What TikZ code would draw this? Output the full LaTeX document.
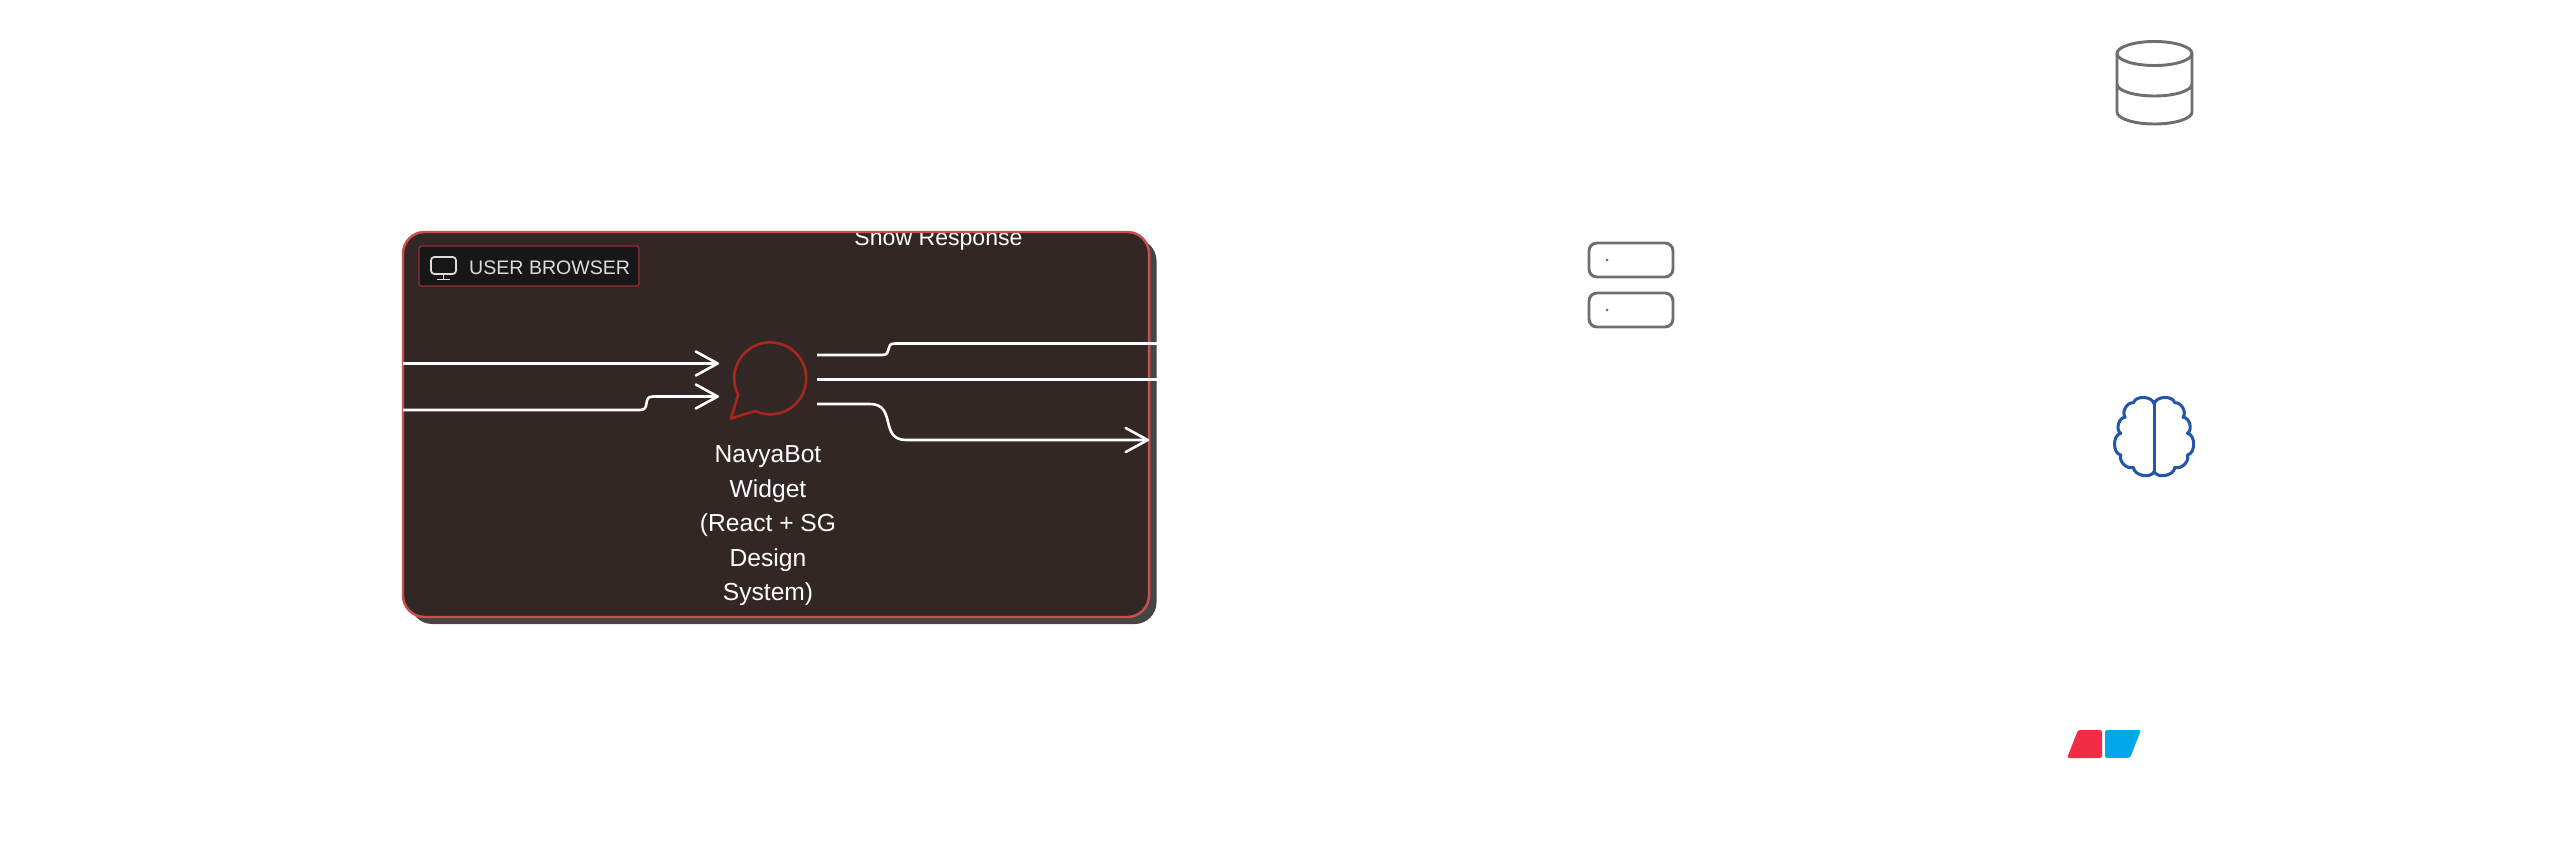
\documentclass[tikz,border=0pt]{standalone}
\usepackage{xcolor}
\usepackage{fontspec}
\setmainfont{Liberation Sans}
\usetikzlibrary{positioning,arrows.meta}
\definecolor{panelfill}{HTML}{332725}
\definecolor{panelshadow}{HTML}{454545}
\definecolor{panelline}{HTML}{C8504A}
\definecolor{badgefill}{HTML}{171717}
\definecolor{badgeline}{HTML}{8F3030}
\definecolor{badgetext}{HTML}{DCDCDC}
\definecolor{chatred}{HTML}{A5281F}
\definecolor{icongrey}{HTML}{6E6E6E}
\definecolor{brainblue}{HTML}{2456A8}
\definecolor{logored}{HTML}{EF2D47}
\definecolor{logoblue}{HTML}{00A8E8}

\begin{document}
\begin{tikzpicture}[x=0.03cm, y=-0.03cm, line join=round,
  panel/.style={minimum width=22.38cm, minimum height=11.55cm, inner sep=0pt, outer sep=0pt, rounded corners=0.65cm},
  badge/.style={draw=badgeline, fill=badgefill, line width=1.1pt, rounded corners=0.08cm, minimum width=6.6cm, minimum height=1.2cm, inner sep=0pt, outer sep=0pt},
  flow/.style={draw=white, line width=2.2pt},
  flowtip/.style={flow, -{Straight Barb[length=6.6mm, width=7.2mm, line width=2.2pt, round]}},
  iconline/.style={draw=icongrey, line width=2.5pt},
  slotbox/.style={iconline, minimum width=2.52cm, minimum height=1.02cm, inner sep=0pt, outer sep=0pt, rounded corners=0.24cm},
  monitor/.style={draw=badgetext, line width=1.5pt},
  brainline/.style={draw=brainblue, line width=2.6pt},
  logopart/.style={rounded corners=0.07cm}]
\useasboundingbox (0,0) rectangle (2569,847);
% browser panel with its shadow
\node[panel, fill=panelshadow] (shadow) at (783.5,431.5) {};
\node[panel, fill=panelfill] (browser) at (776,424.5) {};
\node[font=\fontsize{19.7}{24}\selectfont, text=white, anchor=base, inner sep=0pt] (show) at (938.5,246) {Show Response};
\node[panel, draw=panelline, line width=2.1pt] (browserline) at (776,424.5) {};
% badge
\node[badge] (badge) at (529,266) {};
\node[font=\fontsize{16.7}{21}\selectfont, text=badgetext, anchor=base west, inner sep=0pt] (badgetitle) at (469,274.5) {USER BROWSER};
\draw[monitor, rounded corners=0.1cm] (431,257) rectangle (456,274);
\draw[monitor] (443.5,274) -- (443.5,279) (437,279.5) -- (450,279.5);
% chat icon and its label
\coordinate (chat) at (770,378);
\draw[draw=chatred, line width=2.2pt] (755,411) arc[start angle=115, end angle=-207, radius=36] -- (731,418.5) -- cycle;
\node[font=\fontsize{21}{29.45}\selectfont, text=white, align=center, inner sep=0pt, below=2.03cm of chat, xshift=-0.06cm] (widget) {NavyaBot\\Widget\\(React + SG\\Design\\System)};
% flows into the widget
\coordinate (ina) at (403,363.5);
\coordinate (inb) at (403,410);
\coordinate (tipa) at (719,363.5);
\coordinate (tipb) at (719,396.5);
\draw[flowtip] (ina) -- (tipa);
\draw[flowtip] (inb) -- (640,410) .. controls (651,410) and (642,396.5) .. (653,396.5) -- (tipb);
% flows out of the widget
\coordinate (outa) at (817,355);
\coordinate (outb) at (817,379.5);
\coordinate (outc) at (817,404);
\coordinate (enda) at (1157,343.5);
\coordinate (endb) at (1157,379.5);
\coordinate (endc) at (1149,440);
\draw[flow] (outa) -- (882,355) .. controls (893,355) and (884,343.5) .. (895,343.5) -- (enda);
\draw[flow] (outb) -- (endb);
\draw[flowtip] (outc) -- (870,404) .. controls (897,404) and (879,440) .. (906,440) -- (endc);
% slots
\node[slotbox] (slota) at (1631,260) {};
\node[slotbox, below=0.48cm of slota] (slotb) {};
\foreach \y in {260,310}
  \fill[icongrey] (1607,\y) circle[radius=1.5];
% database
\draw[iconline] (2154.5,53.5) ellipse[x radius=37.5, y radius=12];
\draw[iconline] (2117,53.5) -- (2117,112) arc[start angle=180, end angle=0, x radius=37.5, y radius=12] -- (2192,53.5);
\draw[iconline] (2117,84) arc[start angle=180, end angle=0, x radius=37.5, y radius=12];
% brain
\foreach \side in {1,-1}
  \draw[brainline, xshift=64.62cm, xscale=\side] (0,404) to[bend right=75] (-20.7,402.7) to[bend right=65] (-29,417.3) to[bend right=75] (-33.3,433.3) to[bend right=80] (-33.3,455) to[bend right=65] (-20.7,467.3) to[bend right=75] (0,471.7);
\draw[brainline] (2154,404) -- (2154,471.7);
% logo
\fill[logored, logopart] (2078,730) -- (2102,730) -- (2102,758) -- (2067,758) -- cycle;
\fill[logoblue, logopart] (2105,730) -- (2141,730) -- (2130,758) -- (2105,758) -- cycle;
\end{tikzpicture}
\end{document}
